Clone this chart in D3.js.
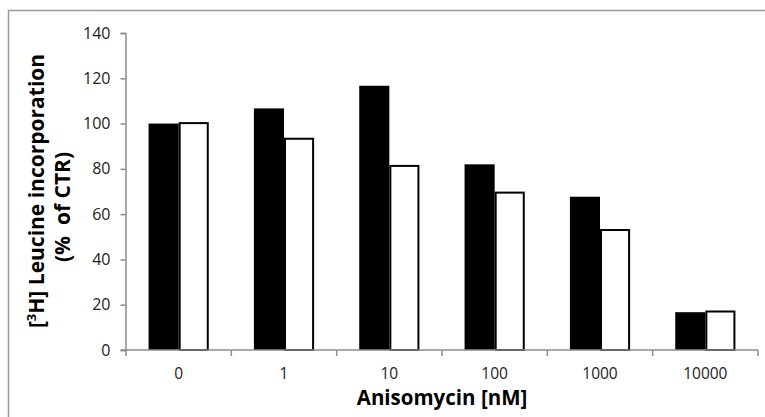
<!DOCTYPE html>
<html><head><meta charset="utf-8">
<script src="https://cdn.jsdelivr.net/npm/d3@7"></script>
<style>body{margin:0;background:#fff}svg{display:block}</style>
</head><body>
<svg id="c" width="765" height="417"></svg>
<script>
const categories = ["0", "1", "10", "100", "1000", "10000"];
const seriesBlack = [100, 106.7, 116.7, 82, 67.7, 16.7];
const seriesWhite = [100.2, 93.3, 81.3, 69.5, 53, 17];
const yTicks = [0, 20, 40, 60, 80, 100, 120, 140];
const yTitle1 = ["[", "3", "H] Leucine incorporation"];
const yTitle2 = "(%  of CTR)";
const xTitle = "Anisomycin [nM]";

const svg = d3.select("#c");
const font = "'Open Sans', 'Liberation Sans', sans-serif";

// outer frame
svg.append("rect").attr("x", 8.5).attr("y", 10.5).attr("width", 800).attr("height", 500)
  .attr("fill", "none").attr("stroke", "#9a9a9a").attr("stroke-width", 1.5);

const x0 = 126, x1 = 758, yTop = 33, yBot = 350;
const x = d3.scaleBand().domain(categories).range([x0, x1]).paddingInner(0).paddingOuter(0);
const y = d3.scaleLinear().domain([0, 140]).range([yBot, yTop]);
const inner = d3.scaleBand().domain(["b", "w"]).range([0, x.bandwidth()]).paddingInner(0).paddingOuter(0.75);

const g = svg.append("g");

// bars
categories.forEach((c, i) => {
  g.append("rect").attr("x", x(c) + inner("b")).attr("y", y(seriesBlack[i]))
    .attr("width", inner.bandwidth()).attr("height", y(0) - y(seriesBlack[i])).attr("fill", "#000");
  g.append("rect").attr("x", x(c) + inner("w") + 1).attr("y", y(seriesWhite[i]))
    .attr("width", inner.bandwidth() - 2).attr("height", y(0) - y(seriesWhite[i]))
    .attr("fill", "#fff").attr("stroke", "#000").attr("stroke-width", 2);
});

// y axis
const yAxis = d3.axisLeft(y).tickValues(yTicks).tickSize(5).tickPadding(10);
const ya = svg.append("g").attr("transform", `translate(${x0 - 0.5},0)`).call(yAxis);
ya.select(".domain").attr("stroke", "#8c8c8c").attr("stroke-width", 1.5);
ya.selectAll(".tick line").attr("stroke", "#8c8c8c").attr("stroke-width", 1.5);
ya.selectAll(".tick text").attr("font-family", font).attr("font-size", 16).attr("fill", "#222");

// x axis
const xa = svg.append("g").attr("transform", `translate(0,${yBot})`);
xa.append("line").attr("x1", x0 - 5).attr("x2", x1).attr("y1", 0).attr("y2", 0)
  .attr("stroke", "#8c8c8c").attr("stroke-width", 1.5);
const xTickPos = categories.map(c => x(c)).concat([x1]);
xa.selectAll(".xt").data(xTickPos).enter().append("line")
  .attr("x1", d => d).attr("x2", d => d).attr("y1", 0).attr("y2", 6)
  .attr("stroke", "#8c8c8c").attr("stroke-width", 1.5);
xa.selectAll(".xl").data(categories).enter().append("text")
  .attr("x", d => x(d) + x.bandwidth() / 2).attr("y", 28.5)
  .attr("text-anchor", "middle").attr("font-family", font).attr("font-size", 15.5).attr("fill", "#222")
  .text(d => d);

// x title
svg.append("text").attr("x", 442).attr("y", 405).attr("text-anchor", "middle")
  .attr("font-family", font).attr("font-weight", "bold").attr("font-size", 20.5).attr("fill", "#000")
  .text(xTitle);

// y title
const t1 = svg.append("text").attr("transform", "translate(44,191) rotate(-90)")
  .attr("text-anchor", "middle").attr("font-family", font).attr("font-weight", "bold")
  .attr("font-size", 21).attr("fill", "#000");
t1.append("tspan").text(yTitle1[0]);
t1.append("tspan").attr("font-size", 13).attr("dy", -8).text(yTitle1[1]);
t1.append("tspan").attr("dy", 8).text(yTitle1[2]);
svg.append("text").attr("transform", "translate(70,207) rotate(-90)")
  .attr("text-anchor", "middle").attr("font-family", font).attr("font-weight", "bold")
  .attr("font-size", 21).attr("fill", "#000").attr("xml:space", "preserve").style("white-space", "pre")
  .text(yTitle2);
</script>
</body></html>
